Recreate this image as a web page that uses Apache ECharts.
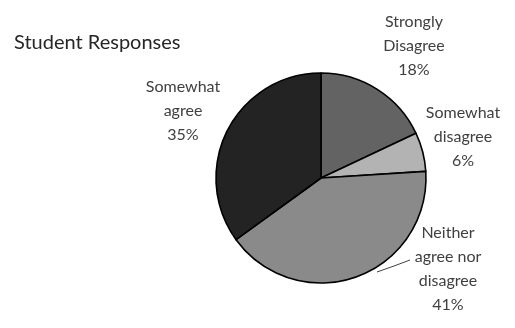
<!DOCTYPE html>
<html>
<head>
<meta charset="utf-8">
<script src="https://cdn.jsdelivr.net/npm/echarts@6/dist/echarts.min.js"></script>
<style>
html,body{margin:0;padding:0;background:#fff;}
#chart{width:515px;height:328px;}
</style>
</head>
<body>
<div id="chart"></div>
<script>
var titleText = "Student Responses";
var categories = ["Strongly\nDisagree", "Somewhat\ndisagree", "Neither\nagree nor\ndisagree", "Somewhat\nagree"];
var values = [18, 6, 41, 35];

// styling / layout (not data)
var sliceColors = ["#636363", "#b3b3b3", "#8a8a8a", "#232323"];
var labelCenters = [[414, 46], [463, 137], [448, 269], [183, 111]];
var neitherLine = [[377, 272], [394, 266], [410, 260]];

var chart = echarts.init(document.getElementById('chart'), null, {renderer: 'canvas'});
var data = categories.map(function (c, i) {
  return {
    name: c,
    value: values[i],
    itemStyle: {color: sliceColors[i]},
    labelLine: {show: i === 2}
  };
});
chart.setOption({
  animation: false,
  title: {
    text: titleText,
    left: 9,
    top: 28,
    textStyle: {fontFamily: 'Lato', fontSize: 20, fontWeight: 'normal', color: '#262626'}
  },
  series: [{
    type: 'pie',
    center: [321, 178],
    radius: [0, 105],
    startAngle: 90,
    clockwise: true,
    silent: true,
    itemStyle: {borderColor: '#000', borderWidth: 1.6},
    label: {
      show: true,
      position: 'outside',
      formatter: '{b}\n{c}%',
      fontFamily: 'Lato',
      fontSize: 16,
      lineHeight: 24,
      color: '#404040',
      align: 'center',
      overflow: 'none',
      width: 120
    },
    labelLine: {lineStyle: {color: '#404040', width: 1}},
    labelLayout: function (p) {
      var c = labelCenters[p.dataIndex];
      var o = {x: c[0], y: c[1], align: 'center', verticalAlign: 'middle', hideOverlap: false, moveOverlap: null};
      if (p.dataIndex === 2) o.labelLinePoints = neitherLine;
      return o;
    },
    data: data
  }]
});
</script>
</body>
</html>
